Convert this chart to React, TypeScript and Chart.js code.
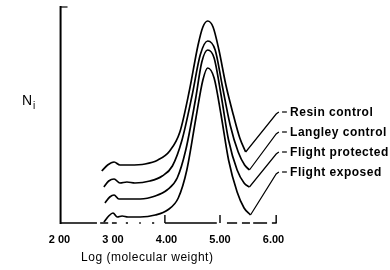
import { useEffect, useRef } from "react";
import { Chart, registerables } from "chart.js";

Chart.register(...registerables);

// ---- data (log molecular weight vs. N_i, curves offset vertically) ----
const resinLogMW = [2.79, 2.9, 3.02, 3.13, 3.31, 3.6, 3.84, 4.06, 4.25, 4.43, 4.59, 4.68, 4.77, 4.87, 4.98, 5.11, 5.25, 5.37, 5.48];
const resinNi = [52, 58, 61, 58, 58, 59, 63, 72, 91, 133, 178, 196, 202, 196, 173, 138, 108, 85, 71];

const langleyLogMW = [2.83, 2.92, 3.02, 3.13, 3.26, 3.41, 3.69, 3.92, 4.11, 4.29, 4.48, 4.63, 4.77, 4.91, 5.04, 5.19, 5.34, 5.46, 5.55];
const langleyNi = [36, 42, 44, 40, 41, 40, 42, 47, 57, 83, 128, 168, 182, 173, 138, 98, 71, 58, 53];

const protectedLogMW = [2.85, 2.94, 3.02, 3.11, 3.22, 3.51, 3.79, 4.01, 4.2, 4.36, 4.54, 4.66, 4.77, 4.89, 5.02, 5.16, 5.32, 5.45, 5.55];
const protectedNi = [20, 26, 28, 24, 24, 24, 27, 33, 45, 73, 123, 161, 173, 165, 128, 83, 53, 40, 36];

const exposedLogMW = [2.83, 2.92, 3.0, 3.08, 3.17, 3.28, 3.51, 3.79, 4.02, 4.22, 4.38, 4.55, 4.68, 4.77, 4.89, 5.02, 5.16, 5.32, 5.45, 5.57];
const exposedNi = [1, 7, 10, 6, 7, 6, 6, 8, 13, 25, 53, 105, 143, 155, 145, 108, 63, 31, 15, 8];

const seriesNames = ["Resin control", "Langley control", "Flight protected", "Flight exposed"];
const labelLevels = [111, 91, 71, 51];

const tickValues = [2, 3, 4, 5, 6];
const tickLabels = ["2 00", "3 00", "4.00", "5.00", "6.00"];
const xTitle = "Log (molecular weight)";
const yTitle = "N";
const yTitleSub = "i";

// axis decoration (broken baseline of the scanned figure), in data units
const baselineSegments: [number, number][] = [
  [2.02, 2.7], [2.76, 2.91], [2.98, 3.07], [3.24, 3.28], [3.49, 3.52], [3.73, 3.77],
  [3.97, 4.94], [5.13, 5.32], [5.41, 5.56], [5.62, 5.88], [5.97, 6.06],
];
const yAxisAt = 2.02;

const seriesX = [resinLogMW, langleyLogMW, protectedLogMW, exposedLogMW];
const seriesY = [resinNi, langleyNi, protectedNi, exposedNi];

const FONT = "'Liberation Sans', Arial, sans-serif";

export default function App() {
  const ref = useRef<HTMLCanvasElement | null>(null);

  useEffect(() => {
    if (!ref.current) return;

    const curveSets = seriesX.map((xs, i) => ({
      label: seriesNames[i],
      data: xs.map((x, j) => ({ x, y: seriesY[i][j] })),
      borderColor: "#000",
      borderWidth: 1.7,
      pointRadius: 0,
      fill: false,
      cubicInterpolationMode: "monotone" as const,
    }));

    const leaderSets = seriesX.map((xs, i) => {
      const n = xs.length - 1;
      return {
        label: seriesNames[i] + " leader",
        data: [
          { x: xs[n], y: seriesY[i][n] },
          { x: 6.05, y: labelLevels[i] - 2 },
          { x: 6.1, y: labelLevels[i] },
        ],
        borderColor: "#000",
        borderWidth: 1.2,
        pointRadius: 0,
        fill: false,
        tension: 0,
        clip: false as any,
      };
    });

    const decor = {
      id: "decor",
      afterDatasetsDraw(chart: any) {
        const ctx = chart.ctx as CanvasRenderingContext2D;
        const xs = chart.scales.x;
        const ys = chart.scales.y;
        const base = ys.getPixelForValue(0);
        const top = ys.getPixelForValue(216);
        ctx.save();
        ctx.strokeStyle = "#000";
        ctx.fillStyle = "#000";
        ctx.lineCap = "butt";
        // y axis
        const ax = xs.getPixelForValue(yAxisAt);
        ctx.lineWidth = 2;
        ctx.beginPath();
        ctx.moveTo(ax, top - 1);
        ctx.lineTo(ax, base + 1);
        ctx.stroke();
        ctx.lineWidth = 1.2;
        ctx.beginPath();
        ctx.moveTo(ax, top);
        ctx.lineTo(xs.getPixelForValue(2.15), top);
        ctx.stroke();
        // broken baseline
        ctx.lineWidth = 1.6;
        ctx.beginPath();
        for (const [a, b] of baselineSegments) {
          ctx.moveTo(xs.getPixelForValue(a), base);
          ctx.lineTo(xs.getPixelForValue(b), base);
        }
        ctx.stroke();
        // upward tick marks
        ctx.lineWidth = 1.4;
        ctx.beginPath();
        for (const v of [3.97, 5, 6.05]) {
          const px = xs.getPixelForValue(v);
          ctx.moveTo(px, base);
          ctx.lineTo(px, base - 8);
        }
        ctx.stroke();
        // x title
        ctx.font = `12px ${FONT}`;
        (ctx as any).letterSpacing = "0.5px";
        ctx.textAlign = "center";
        ctx.textBaseline = "middle";
        ctx.fillText(xTitle, xs.getPixelForValue(3.64), base + 35);
        (ctx as any).letterSpacing = "0px";
        // y title N_i
        ctx.textBaseline = "alphabetic";
        ctx.textAlign = "left";
        ctx.font = `14px ${FONT}`;
        ctx.fillText(yTitle, 22, 105);
        const nw = ctx.measureText(yTitle).width;
        ctx.font = `10px ${FONT}`;
        ctx.fillText(yTitleSub, 22 + nw + 1, 109);
        // series labels
        ctx.font = `bold 12px ${FONT}`;
        (ctx as any).letterSpacing = "0.5px";
        ctx.textBaseline = "middle";
        seriesNames.forEach((name, i) => {
          const py = ys.getPixelForValue(labelLevels[i]);
          ctx.lineWidth = 1.2;
          ctx.beginPath();
          ctx.moveTo(xs.getPixelForValue(6.16), py);
          ctx.lineTo(xs.getPixelForValue(6.25), py);
          ctx.stroke();
          ctx.fillText(name, xs.getPixelForValue(6.31), py + 0.5);
        });
        ctx.restore();
      },
    };

    const chart = new Chart(ref.current, {
      type: "line",
      data: { datasets: [...curveSets, ...leaderSets] as any },
      options: {
        responsive: false,
        animation: false,
        events: [],
        layout: { padding: { left: 59.5, right: 111.15, top: 7, bottom: 0 } },
        plugins: { legend: { display: false }, tooltip: { enabled: false } },
        scales: {
          x: {
            type: "linear",
            min: 2,
            max: 6.1,
            afterBuildTicks: (s: any) => {
              s.ticks = tickValues.map((v) => ({ value: v }));
            },
            afterFit: (s: any) => {
              s.height = 47;
            },
            ticks: {
              callback: (_v: any, i: number) => tickLabels[i],
              font: { family: FONT, size: 11, weight: "bold" },
              color: "#000",
              padding: 10,
              maxRotation: 0,
              autoSkip: false,
            },
            grid: { display: false, drawTicks: false, tickLength: 0 },
            border: { display: false },
          },
          y: { type: "linear", min: 0, max: 216, display: false },
        },
      },
      plugins: [decor],
    });
    return () => chart.destroy();
  }, []);

  return (
    <canvas
      ref={ref}
      width={390}
      height={270}
      style={{ position: "fixed", left: 0, top: 0, width: 390, height: 270, background: "#fff" }}
    />
  );
}
